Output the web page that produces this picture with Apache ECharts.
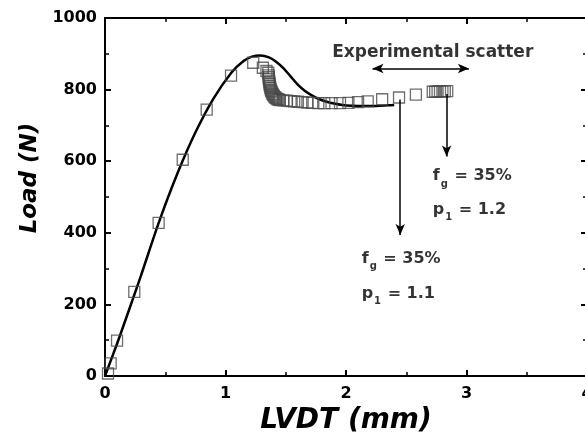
<!DOCTYPE html>
<html><head><meta charset="utf-8">
<script src="https://cdn.jsdelivr.net/npm/echarts@6/dist/echarts.min.js"></script>
<style>html,body{margin:0;padding:0;background:#fff}#c{width:585px;height:444px}</style>
</head><body><div id="c"></div>
<script>
// Experimental data (open squares)
const expX = [0.025,0.047,0.10,0.243,0.445,0.645,0.844,1.046,1.23,1.31,1.34,1.355,
  1.358,1.359,1.360,1.362,1.364,1.366,1.369,1.372,1.376,1.380,1.385,1.390,1.396,1.402,1.409,1.416,1.424,1.432,1.441,1.450,
  1.48,1.51,1.54,1.57,1.60,1.64,1.68,1.72,1.77,1.82,1.88,1.95,2.02,2.10,2.18,2.30,2.44,2.58,
  2.72,2.74,2.76,2.78,2.80,2.82,2.84];
const expY = [7,35,99,235,428,604,744,839,875,861,852,847,
  840,835,830,825,820,815,810,805,800,796,792,788,785,782,779,777,775,773,772,771,
  770,769,768,767,766,765,764,763,762,762,762,762,763,765,767,773,778,786,
  794,794,795,795,795,795,796];
// Model curve (solid line)
const modX = [0,0.05,0.10,0.20,0.30,0.45,0.60,0.75,0.90,1.05,1.15,1.22,1.29,1.36,1.42,1.48,1.54,1.60,1.66,1.72,1.78,1.84,1.90,1.97,2.05,2.15,2.25,2.35,2.40];
const modY = [0,45,90,185,282,432,565,680,775,848,880,892,895,890,878,860,837,814,796,783,773,766,761,757,755,754,754,756,757];
// Axis ticks
const xTicks = [0,1,2,3,4];
const yTicks = [0,200,400,600,800,1000];
// Annotations
const noteX = [2.72, 2.72, 2.13, 2.13];
const noteY = [558, 464, 328, 230];
const noteText = ['{m|f}{s|g}{m| = 35%}', '{m|p}{s|1}{m| = 1.2}', '{m|f}{s|g}{m| = 35%}', '{m|p}{s|1}{m| = 1.1}'];
const titleNote = 'Experimental scatter';

const F = '"DejaVu Sans", "Liberation Sans", Arial, sans-serif';
const chart = echarts.init(document.getElementById('c'), null, {renderer:'canvas'});
const axisCommon = {
  axisLine:{onZero:false,lineStyle:{color:'#000',width:2}},
  axisTick:{inside:true,length:6,lineStyle:{color:'#000',width:2}},
  minorTick:{show:true,splitNumber:2,length:4,lineStyle:{color:'#000',width:1.5}},
  splitLine:{show:false}
};
chart.setOption({
  animation:false,
  backgroundColor:'#fff',
  grid:{left:105,top:18,width:482,height:358,containLabel:false,outerBoundsMode:'none'},
  xAxis:[
    Object.assign({type:'value',min:xTicks[0],max:xTicks[xTicks.length-1],interval:1,position:'bottom',
      name:'LVDT (mm)',nameLocation:'middle',nameGap:25,
      nameTextStyle:{fontFamily:F,fontSize:28,fontWeight:'bold',fontStyle:'italic',color:'#000'},
      axisLabel:{fontFamily:F,fontSize:16,fontWeight:'bold',color:'#000',margin:10,formatter:v=>String(v)}},axisCommon),
    Object.assign({type:'value',min:xTicks[0],max:xTicks[xTicks.length-1],interval:1,position:'top',
      axisLabel:{show:false}},axisCommon)
  ],
  yAxis:[
    Object.assign({type:'value',min:yTicks[0],max:yTicks[yTicks.length-1],interval:200,position:'left',
      name:'Load (N)',nameLocation:'middle',nameGap:63,
      nameTextStyle:{fontFamily:F,fontSize:23,fontWeight:'bold',fontStyle:'italic',color:'#000',padding:[0,0,0,38]},
      axisLabel:{fontFamily:F,fontSize:16,fontWeight:'bold',color:'#000',margin:8,formatter:v=>String(v)}},axisCommon),
    Object.assign({type:'value',min:yTicks[0],max:yTicks[yTicks.length-1],interval:200,position:'right',
      axisLabel:{show:false}},axisCommon)
  ],
  series:[
    {type:'line',data:modX.map((x,i)=>[x,modY[i]]),smooth:0.3,showSymbol:false,
     lineStyle:{color:'#000',width:2.5},z:3,
     markLine:{silent:true,symbol:['arrow','arrow'],symbolSize:[7,11],
       label:{show:false},lineStyle:{color:'#000',width:1.5,type:'solid'},
       data:[
         [{coord:[2.22,859]},{coord:[3.02,859]}],
         [{coord:[2.835,788],symbol:'none'},{coord:[2.835,613]}],
         [{coord:[2.45,772],symbol:'none'},{coord:[2.45,394]}]
       ]}},
    {type:'scatter',data:expX.map((x,i)=>[x,expY[i]]),symbol:'rect',symbolSize:11,
     itemStyle:{color:'rgba(0,0,0,0)',borderColor:'#4a4a4a',borderWidth:1.3},z:4},
    {type:'scatter',data:noteX.map((x,i)=>({value:[x,noteY[i]],label:{formatter:noteText[i]}})),
     symbolSize:0,silent:true,
     label:{show:true,position:'right',distance:0,color:'#000',textBorderWidth:0,
       rich:{m:{fontFamily:F,fontSize:16,fontWeight:'bold',color:'#000'},
             s:{fontFamily:F,fontSize:10,fontWeight:'bold',color:'#000',padding:[16,1,0,1]}}}},
    {type:'scatter',data:[[2.72,904]],symbolSize:0,silent:true,
     label:{show:true,position:'inside',formatter:titleNote,fontFamily:F,fontSize:17,fontWeight:'bold',color:'#000',textBorderWidth:0}}
  ]
});
</script></body></html>
